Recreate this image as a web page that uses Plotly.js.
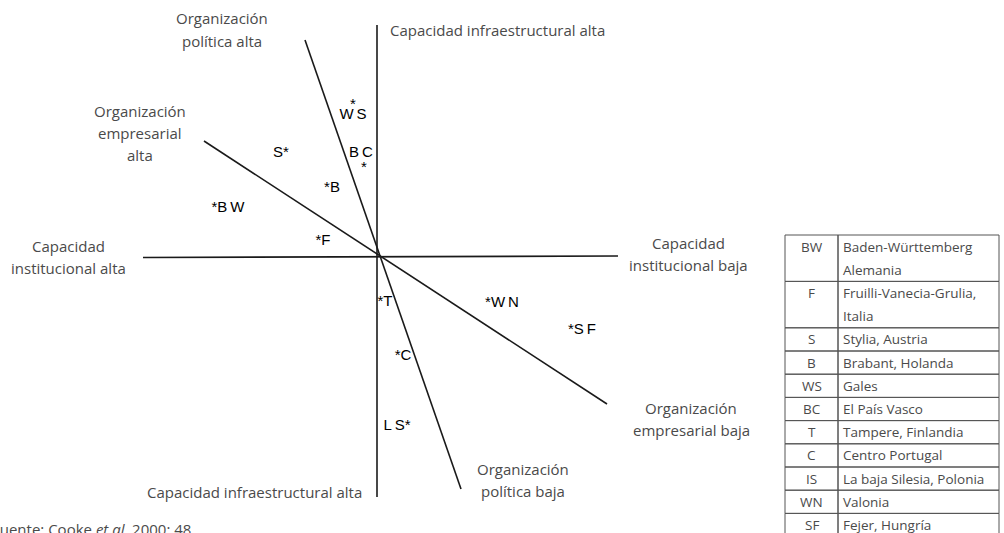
<!DOCTYPE html>
<html><head><meta charset="utf-8">
<script src="https://cdn.plot.ly/plotly-3.0.1.min.js"></script>
<style>html,body{margin:0;padding:0;background:#fff;overflow:hidden}</style>
</head><body><div id="chart" style="width:1004px;height:533px"></div>
<script>
// ---- DATA ----
// Four dimension axes, endpoints in diagram units (origin = crossing point, y up)
const axisNames = ["Capacidad infraestructural", "Capacidad institucional", "Organización política", "Organización empresarial"];
const axisX0 = [0, -234, -72, -173];
const axisY0 = [231, -1.5, 216, 115];
const axisX1 = [0, 241, 84, 230];
const axisY1 = [-241, 0, -233, -148];

// Axis end labels (lines of text)
const endLabels = [
  ["Organización", "política alta"],
  ["Capacidad infraestructural alta"],
  ["Organización", "empresarial", "alta"],
  ["Capacidad", "institucional alta"],
  ["Capacidad", "institucional baja"],
  ["Organización", "empresarial baja"],
  ["Organización", "política baja"],
  ["Capacidad infraestructural alta"]
];

// Regions placed in the diagram
const regionLabels = ["W\u2009S", "S*", "B\u2009C", "*B", "*B\u2009W", "*F", "*T", "*W\u2009N", "*S\u2009F", "*C", "L\u2009S*"];
const regionX = [-24, -96, -16, -45, -149, -54, 8, 125, 205, 26, 20];
const regionY = [141, 103, 103, 68, 48, 15, -46, -47, -74, -100, -170];
// detached stars (for WS and BC)
const starX = [-24, -13];
const starY = [151, 88];

// Legend table
const tableCodes = ["BW", "F", "S", "B", "WS", "BC", "T", "C", "IS", "WN", "SF"];
const tableNames = [
  ["Baden-Württemberg", "Alemania"],
  ["Fruilli-Vanecia-Grulia,", "Italia"],
  ["Stylia, Austria"],
  ["Brabant, Holanda"],
  ["Gales"],
  ["El País Vasco"],
  ["Tampere, Finlandia"],
  ["Centro Portugal"],
  ["La baja Silesia, Polonia"],
  ["Valonia"],
  ["Fejer, Hungría"]
];
const sourceText = "Fuente: Cooke <i>et al.</i> 2000: 48";

// ---- LAYOUT HELPERS ----
const W = 1004, H = 533;
const px = v => v / W;
const py = v => 1 - v / H;
const labelFont = {family: "Open Sans, sans-serif", size: 15, color: "#4a4a4a", weight: 400};
const tableFont = {family: "Open Sans, sans-serif", size: 13.5, color: "#4a4a4a", weight: 400};

const traces = [];
for (let i = 0; i < axisNames.length; i++) {
  traces.push({
    type: "scatter", mode: "lines", name: axisNames[i],
    x: [axisX0[i], axisX1[i]], y: [axisY0[i], axisY1[i]],
    line: {color: "#1a1a1a", width: 1.6}, hoverinfo: "skip", showlegend: false
  });
}
traces.push({
  type: "scatter", mode: "text", x: regionX, y: regionY, text: regionLabels,
  textfont: {family: "Liberation Sans, Arial, sans-serif", size: 15, color: "#000"},
  textposition: "middle center", showlegend: false, hoverinfo: "skip"
});
traces.push({
  type: "scatter", mode: "text", x: starX, y: starY, text: ["*", "*"],
  textfont: {family: "Liberation Sans, Arial, sans-serif", size: 15, color: "#000"},
  textposition: "middle center", showlegend: false, hoverinfo: "skip"
});

// label placements (pixel centers, one per line)
const labelPos = [
  {x: 222, y: [18, 41], anchor: "center"},
  {x: 388, y: [30], anchor: "left"},
  {x: 140, y: [111, 133, 155], anchor: "center"},
  {x: 68, y: [246, 268], anchor: "center"},
  {x: 688, y: [243, 265], anchor: "center"},
  {x: 691, y: [408, 430], anchor: "center"},
  {x: 523, y: [469, 491], anchor: "center"},
  {x: 364, y: [492], anchor: "right"}
];
const annotations = [];
endLabels.forEach((lines, i) => {
  lines.forEach((t, j) => {
    annotations.push({
      xref: "paper", yref: "paper", x: px(labelPos[i].x), y: py(labelPos[i].y[j]),
      xanchor: labelPos[i].anchor, yanchor: "middle", text: t, showarrow: false, font: labelFont
    });
  });
});

// table
const shapes = [];
const tLeft = 785, tDiv = 838, tRight = 999, tTop = 235, lineH = 23.2;
let yCur = tTop;
tableCodes.forEach((c, i) => {
  const n = tableNames[i].length;
  const yEnd = yCur + n * lineH;
  shapes.push({type: "rect", xref: "paper", yref: "paper", x0: px(tLeft), x1: px(tDiv), y0: py(yCur), y1: py(yEnd), line: {color: "#555", width: 1}});
  shapes.push({type: "rect", xref: "paper", yref: "paper", x0: px(tDiv), x1: px(tRight), y0: py(yCur), y1: py(yEnd), line: {color: "#555", width: 1}});
  annotations.push({xref: "paper", yref: "paper", x: px((tLeft + tDiv) / 2), y: py(yCur + lineH / 2),
    xanchor: "center", yanchor: "middle", text: c, showarrow: false, font: tableFont});
  tableNames[i].forEach((t, j) => {
    annotations.push({xref: "paper", yref: "paper", x: px(tDiv + 3), y: py(yCur + lineH / 2 + j * lineH),
      xanchor: "left", yanchor: "middle", text: t, showarrow: false, font: tableFont});
  });
  yCur = yEnd;
});

annotations.push({xref: "paper", yref: "paper", x: px(-10), y: py(529), xanchor: "left", yanchor: "middle",
  text: sourceText, showarrow: false, font: labelFont});

const layout = {
  width: W, height: H, margin: {l: 0, r: 0, t: 0, b: 0},
  paper_bgcolor: "#fff", plot_bgcolor: "#fff",
  xaxis: {range: [-377, 627], visible: false, fixedrange: true},
  yaxis: {range: [-277, 256], visible: false, fixedrange: true},
  showlegend: false, annotations: annotations, shapes: shapes
};
Plotly.newPlot("chart", traces, layout, {staticPlot: true, displayModeBar: false});
</script></body></html>
